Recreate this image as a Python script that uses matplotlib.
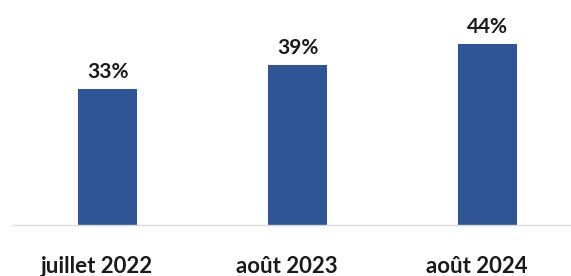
import matplotlib
matplotlib.use("Agg")
import matplotlib.pyplot as plt

categories = ["juillet 2022", "août 2023", "août 2024"]
values = [33, 39, 44]
labels = ["33%", "39%", "44%"]

plt.rcParams['font.family'] = ['Lato', 'DejaVu Sans']

fig = plt.figure(figsize=(5.71, 2.76), dpi=100)
# axes from x=13px to 571px, y baseline at 225px
ax = fig.add_axes([13/571, 51/276, (571-13)/571, (225-19.3)/276])
x = list(range(len(categories)))
ax.bar(x, values, width=0.31, color="#2F5597")
ax.set_ylim(0, 50)
ax.set_xlim(-0.5, 2.44)
for xi, v, lab in zip(x, values, labels):
    ax.annotate(lab, (xi, v), xytext=(0, 5), textcoords="offset points",
                ha="center", va="bottom", fontsize=15, fontweight="bold", color="#1a1a1a")
ax.set_xticks([xi - 0.058 for xi in x])
ax.set_xticklabels(categories, fontsize=16, fontweight="bold", color="#1a1a1a")
ax.tick_params(axis="x", length=0, pad=22.5)
ax.set_yticks([])
for s in ["top", "right", "left"]:
    ax.spines[s].set_visible(False)
ax.spines["bottom"].set_color("#D9D9D9")
ax.spines["bottom"].set_linewidth(1)
fig.savefig("out.png", dpi=100)
